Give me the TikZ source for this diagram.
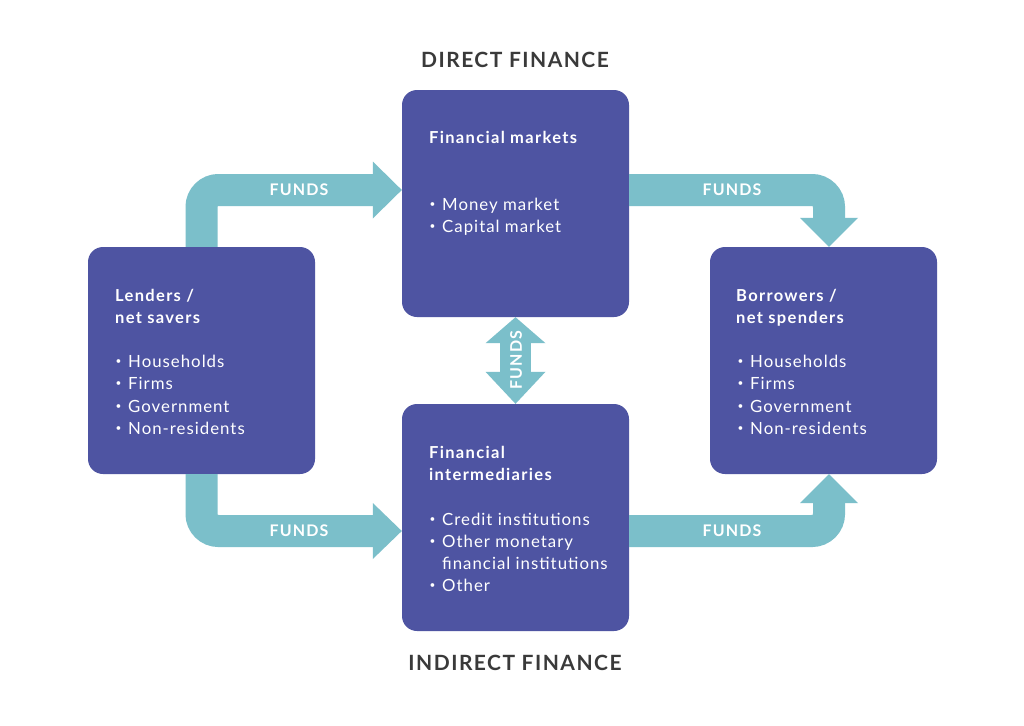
\documentclass[tikz,border=0pt]{standalone}
\usepackage{fontspec}
\setmainfont{Lato}
\newfontfamily\bodyfont[LetterSpace=6]{Lato}
\newfontfamily\headfont[LetterSpace=8]{Lato}
\newfontfamily\ttlfont[LetterSpace=7]{Lato}
\usetikzlibrary{calc}
\definecolor{boxc}{HTML}{4E54A2}
\definecolor{arrc}{HTML}{7BBFCA}
\definecolor{ttl}{HTML}{3A3A3A}
\newcommand{\bul}{\makebox[13pt][l]{\hspace{0.5pt}\raisebox{0.3ex}{\scalebox{0.6}{•}}}}
\begin{document}
\begin{tikzpicture}[x=1pt,y=-1pt,
 box/.style={fill=boxc, rounded corners=15pt, minimum width=227pt, minimum height=227pt, inner sep=0pt, draw=none},
 shaft/.style={draw=arrc, line width=32pt, rounded corners=17pt},
 head/.style={fill=arrc, draw=none},
 fundlbl/.style={text=white, font=\ttlfont\bfseries\fontsize{16}{16}\selectfont, inner sep=0pt},
 ttlstyle/.style={text=ttl, font=\ttlfont\bfseries\fontsize{21}{21}\selectfont, inner sep=0pt},
 txt/.style={text=white, anchor=base west, inner sep=0pt, font=\bodyfont\fontsize{16.8}{16.8}\selectfont},
 hd/.style={txt, font=\headfont\bfseries\fontsize{16.5}{16.5}\selectfont},
]
\useasboundingbox (0,0) rectangle (1024,725);
\fill[white] (0,0) rectangle (1024,725);

% boxes
\node[box] (fm) at (515.5,203.5) {};
\node[box] (fi) at (515.5,517.5) {};
\node[box] (lend) at (201.5,360.5) {};
\node[box] (borr) at (823.5,360.5) {};

% arrow 1: lenders -> financial markets
\draw[shaft] (lend.north) |- ($(fm.west)+(-28,-13.5)$);
\fill[head] ($(fm.west)+(-29,-42)$) -- ($(fm.west)+(0,-13.5)$) -- ($(fm.west)+(-29,15)$) -- cycle;
% arrow 2: financial markets -> borrowers
\draw[shaft] ($(fm.east)+(0,-13.5)$) -| ($(borr.north)+(5.5,-28)$);
\fill[head] ($(borr.north)+(-23.5,-29)$) -- ($(borr.north)+(5.5,0)$) -- ($(borr.north)+(34.5,-29)$) -- cycle;
% arrow 3: lenders -> intermediaries
\draw[shaft] (lend.south) |- ($(fi.west)+(-28,13.5)$);
\fill[head] ($(fi.west)+(-29,-14.5)$) -- ($(fi.west)+(0,13.5)$) -- ($(fi.west)+(-29,41.5)$) -- cycle;
% arrow 4: intermediaries -> borrowers
\draw[shaft] ($(fi.east)+(0,13.5)$) -| ($(borr.south)+(5.5,28)$);
\fill[head] ($(borr.south)+(-23.5,29)$) -- ($(borr.south)+(5.5,0)$) -- ($(borr.south)+(34.5,29)$) -- cycle;
% arrow 5: double
\draw[draw=arrc, line width=31pt] ($(fm.south)+(0,25)$) -- ($(fi.north)+(0,-30)$);
\fill[head] ($(fm.south)+(-30,26)$) -- (fm.south) -- ($(fm.south)+(30,26)$) -- cycle;
\fill[head] ($(fi.north)+(-30,-32)$) -- (fi.north) -- ($(fi.north)+(30,-32)$) -- cycle;

% FUNDS labels
\node[fundlbl] (f1) at (299,190) {FUNDS};
\node[fundlbl] (f2) at (732,190) {FUNDS};
\node[fundlbl] (f3) at (299,531) {FUNDS};
\node[fundlbl] (f4) at (732,531) {FUNDS};
\node[fundlbl, rotate=90] (f5) at (516,360) {FUNDS};

% titles
\node[ttlstyle] (t1) at (515,60) {DIRECT FINANCE};
\node[ttlstyle] (t2) at (515,663) {INDIRECT FINANCE};

% financial markets text
\node[hd] (fm1) at (429,143) {Financial markets};
\node[txt] (fm2) at (429,210) {\bul Money market};
\node[txt] (fm3) at (429,232) {\bul Capital market};

% lenders text
\node[hd] (l1) at (115,301) {Lenders /};
\node[hd] (l2) at (115,323) {net savers};
\node[txt] (l3) at (115,367) {\bul Households};
\node[txt] (l4) at (115,389) {\bul Firms};
\node[txt] (l5) at (115,412) {\bul Government};
\node[txt] (l6) at (115,434) {\bul Non-residents};

% borrowers text
\node[hd] (b1) at (736,301) {Borrowers /};
\node[hd] (b2) at (736,323) {net spenders};
\node[txt] (b3) at (737,367) {\bul Households};
\node[txt] (b4) at (737,389) {\bul Firms};
\node[txt] (b5) at (737,412) {\bul Government};
\node[txt] (b6) at (737,434) {\bul Non-residents};

% intermediaries text
\node[hd] (i1) at (429,458) {Financial};
\node[hd] (i2) at (429,480) {intermediaries};
\node[txt] (i3) at (429,525) {\bul Credit institutions};
\node[txt] (i4) at (429,547) {\bul Other monetary};
\node[txt] (i5) at (442,569) {financial institutions};
\node[txt] (i6) at (429,591) {\bul Other};
\end{tikzpicture}
\end{document}
